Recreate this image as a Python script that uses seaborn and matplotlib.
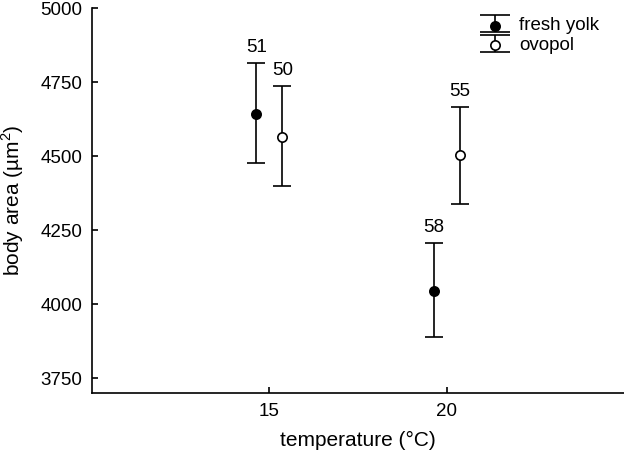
import matplotlib
matplotlib.use("Agg")
import matplotlib.pyplot as plt
from matplotlib.container import ErrorbarContainer
from matplotlib.legend_handler import HandlerErrorbar
from matplotlib.lines import Line2D
import seaborn as sns
import pandas as pd

# values
temps = [15, 20]
fresh_mean = [4642, 4046]
fresh_low = [4477, 3889]
fresh_high = [4814, 4206]
fresh_n = [51, 58]

ovopol_mean = [4564, 4505]
ovopol_low = [4398, 4339]
ovopol_high = [4737, 4665]
ovopol_n = [50, 55]

sns.set_style("ticks")
plt.rcParams['font.family'] = ['Liberation Sans', 'DejaVu Sans']
plt.rcParams['mathtext.fontset'] = 'custom'
plt.rcParams['mathtext.rm'] = 'Liberation Sans'
for key in ['text.color', 'axes.labelcolor', 'xtick.color', 'ytick.color']:
    plt.rcParams[key] = 'black'

fig = plt.figure(figsize=(6.24, 4.53), dpi=100)
ax = fig.add_axes([0.1474, 0.1325, 0.8526, 0.8495])

offset = 0.37
lw = 1.2
groups = [
    ("fresh yolk", fresh_mean, fresh_low, fresh_high, fresh_n, -offset, "black"),
    ("ovopol", ovopol_mean, ovopol_low, ovopol_high, ovopol_n, offset, "white"),
]

handles, labels = [], []
for label, mean, low, high, n, dx, face in groups:
    df = pd.DataFrame({"temp": [t + dx for t in temps], "mean": mean,
                       "low": low, "high": high, "n": n})
    err = [df["mean"] - df["low"], df["high"] - df["mean"]]
    eb = ax.errorbar(df["temp"], df["mean"], yerr=err, fmt="none", ecolor="black",
                     elinewidth=lw, capsize=6.5, capthick=lw, zorder=2)
    sns.scatterplot(data=df, x="temp", y="mean", ax=ax, color=face,
                    edgecolor="black", linewidth=lw, s=45, zorder=3, legend=False)
    sc = ax.collections[-1]
    handles.append((eb, sc))
    labels.append(label)
    for x, h, k in zip(df["temp"], df["high"], df["n"]):
        ax.annotate(str(k), (x, h), xytext=(0, 5), textcoords="offset points",
                    ha="center", va="bottom", fontsize=13.5)

ax.set_xlim(10, 25)
ax.set_ylim(3700, 5000)
ax.set_xticks(temps)
ax.set_yticks([3750, 4000, 4250, 4500, 4750, 5000])
ax.tick_params(direction="in", length=4, width=lw, labelsize=13.5, pad=7)
for s in ["left", "bottom"]:
    ax.spines[s].set_linewidth(lw)
    ax.spines[s].set_color("black")
sns.despine(ax=ax)

ax.set_xlabel("temperature (°C)", fontsize=15, labelpad=8)
ax.set_ylabel("body area (µm$^2$)", fontsize=15, labelpad=10)


# the legend shows wider caps than the plot
def wide_caps(legend_artist, orig):
    legend_artist.update_from(orig)
    if isinstance(orig, Line2D) and orig.get_marker() == "_":
        legend_artist.set_markersize(21)


ax.legend(handles, labels, loc="upper right", bbox_to_anchor=(0.985, 1.02),
          frameon=False, fontsize=13.5, handlelength=1.6, labelspacing=0.15,
          handletextpad=0.5,
          handler_map={ErrorbarContainer: HandlerErrorbar(yerr_size=0.45,
                                                          update_func=wide_caps)})

fig.savefig("out.png", dpi=100)
